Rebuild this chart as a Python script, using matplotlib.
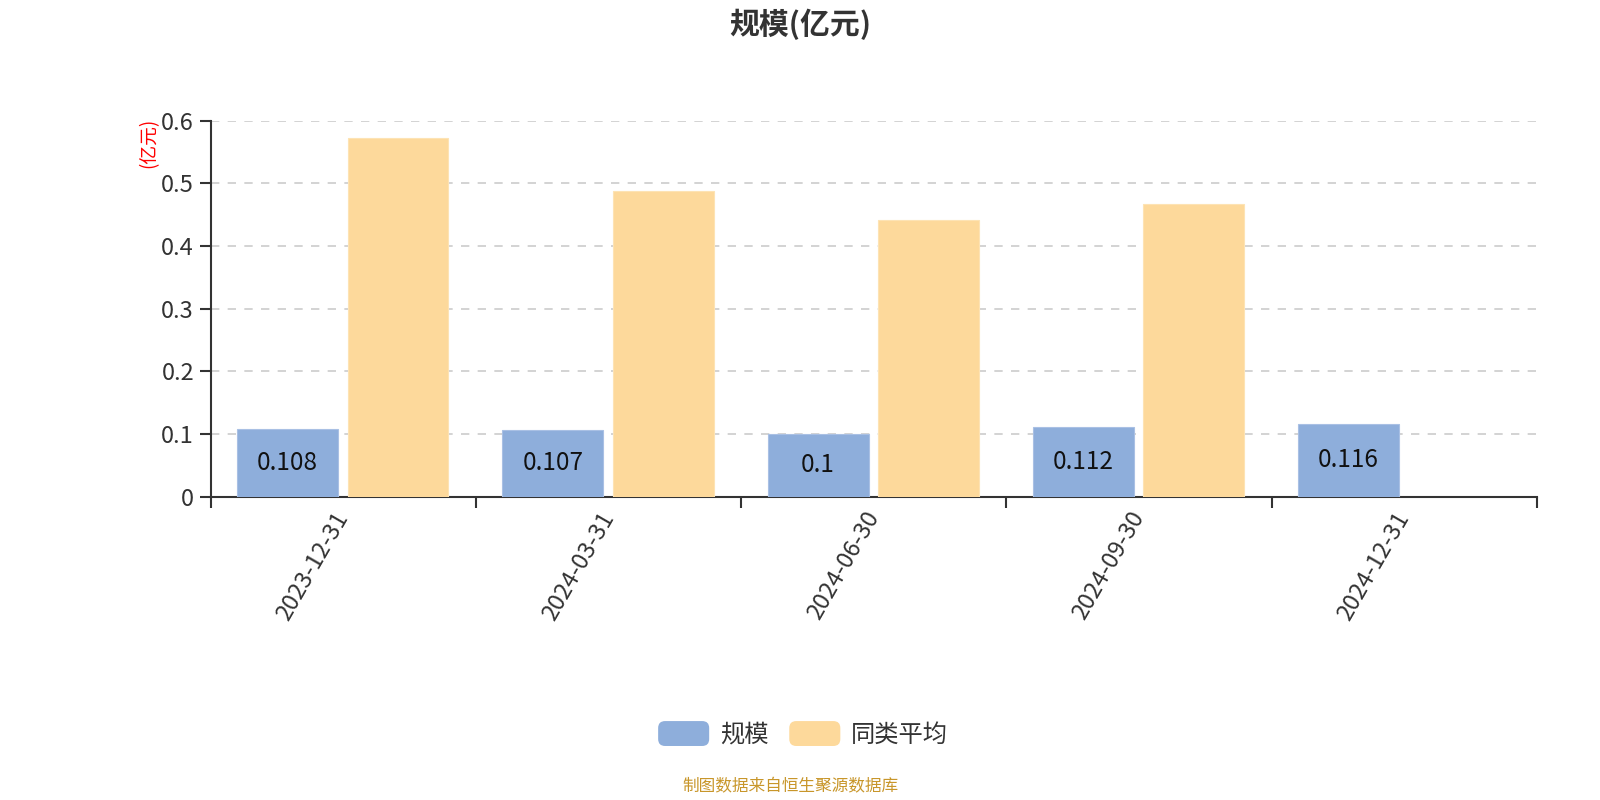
import matplotlib
matplotlib.use("Agg")
import matplotlib.pyplot as plt
import numpy as np
from matplotlib.patches import FancyBboxPatch
from matplotlib.legend_handler import HandlerPatch

plt.rcParams['font.family'] = ['Noto Sans CJK SC', 'DejaVu Sans']

categories = ["2023-12-31", "2024-03-31", "2024-06-30", "2024-09-30", "2024-12-31"]
scale_vals = [0.108, 0.107, 0.1, 0.112, 0.116]
peer_avg = [0.572, 0.488, 0.441, 0.467, np.nan]
series_names = ["规模", "同类平均"]
title = "规模(亿元)"
y_unit = "(亿元)"
footer = "制图数据来自恒生聚源数据库"
yticks = [0, 0.1, 0.2, 0.3, 0.4, 0.5, 0.6]
ytick_labels = ["0", "0.1", "0.2", "0.3", "0.4", "0.5", "0.6"]

blue = "#8eaedb"
yellow = "#fdd99b"
dark = "#333333"

fig = plt.figure(figsize=(16, 8), dpi=100)
ax = fig.add_axes([0.1317, 0.379, 0.8289, 0.470])

x = np.arange(len(categories))
w = 0.38
b1 = ax.bar(x - 0.21, scale_vals, width=w, color=blue, edgecolor="#a9c0e4", linewidth=0.8, zorder=3, label=series_names[0])
b2 = ax.bar(x + 0.206, peer_avg, width=w, color=yellow, edgecolor="#fde3b4", linewidth=0.8, zorder=3, label=series_names[1])

for xi, v in zip(x, scale_vals):
    ax.text(xi - 0.21, v / 2, f"{v:g}", ha="center", va="center", fontsize=17.5, color="#111111", zorder=4)

ax.set_xlim(-0.5, len(categories) - 0.5)
ax.set_ylim(0, 0.6)
ax.set_yticks(yticks)
ax.set_yticklabels(ytick_labels, fontsize=17, color=dark)
ax.yaxis.grid(True, linestyle=(0, (5, 5)), color="#cccccc", linewidth=1.2, zorder=0)
ax.set_axisbelow(True)

ax.set_xticks(np.arange(len(categories) + 1) - 0.5)
ax.set_xticklabels([])
ax.set_xticks(x, minor=True)
ax.set_xticklabels(categories, minor=True, rotation=60, ha="right", va="center",
                   rotation_mode="anchor", fontsize=17, color=dark)
ax.tick_params(axis="x", which="minor", length=0, pad=12)
ax.tick_params(axis="x", which="major", length=8, width=1.5, color=dark, direction="out")
ax.tick_params(axis="y", length=8, width=1.5, color=dark, direction="out", pad=4)

for s in ["top", "right"]:
    ax.spines[s].set_visible(False)
for s in ["left", "bottom"]:
    ax.spines[s].set_color(dark)
    ax.spines[s].set_linewidth(1.5)

fig.text(0.5, 0.969, title, ha="center", va="center", fontsize=21.5, fontweight="bold", color=dark)
fig.text(0.093, 0.821, y_unit, ha="center", va="center", rotation=90, fontsize=13.5, color="red")
fig.text(0.494, 0.016, footer, ha="center", va="center", fontsize=12, color="#c8962a")


class RoundHandler(HandlerPatch):
    def create_artists(self, legend, orig_handle, xdescent, ydescent, width, height, fontsize, trans):
        p = FancyBboxPatch((-xdescent, -ydescent), width, height,
                           boxstyle="round,pad=0,rounding_size=5",
                           facecolor=orig_handle.get_facecolor(), edgecolor="none", transform=trans)
        return [p]


handles = [b1.patches[0], b2.patches[0]]
leg = fig.legend(handles, series_names, loc="center", bbox_to_anchor=(0.502, 0.082), ncol=2,
                 frameon=False, fontsize=17.5, handlelength=2.1, handleheight=1.2,
                 handletextpad=0.45, columnspacing=0.85,
                 handler_map={b1.patches[0]: RoundHandler(), b2.patches[0]: RoundHandler()})
for t in leg.get_texts():
    t.set_color(dark)

fig.savefig("out.png", dpi=100)
